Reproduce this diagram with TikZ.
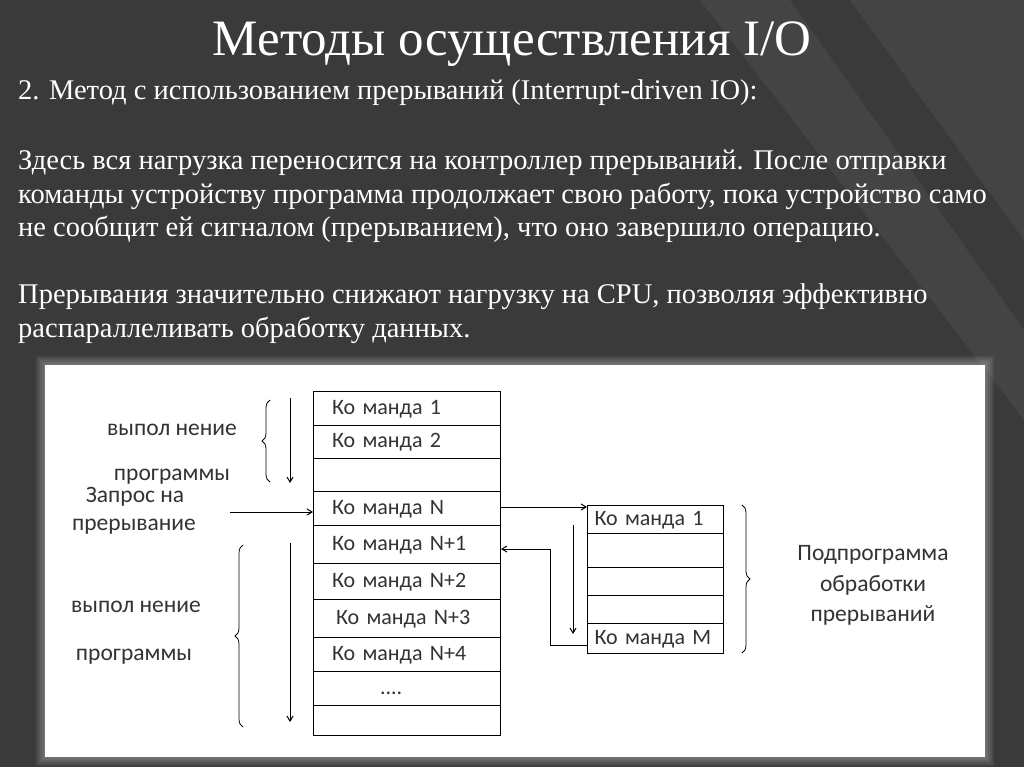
\documentclass[tikz,border=0pt]{standalone}
\usepackage{fontspec}
\setmainfont{Liberation Serif}
\newfontfamily\dfont{Carlito}
\usetikzlibrary{decorations.pathreplacing,arrows.meta}
\definecolor{bg}{HTML}{3A3A3A}
\definecolor{stripe}{HTML}{444444}
\definecolor{dtext}{HTML}{333333}
\begin{document}
\begin{tikzpicture}[x=1pt,y=-1pt,
  cell/.style={draw,line width=1pt,text width=150pt,inner xsep=18.5pt,align=left,inner ysep=0pt,anchor=north west,font=\dfont\fontsize{22}{22}\selectfont,text=dtext,text height=14pt,text depth=3pt},
  scell/.style={draw,line width=1pt,text width=122pt,inner xsep=7pt,align=left,inner ysep=0pt,anchor=north west,font=\dfont\fontsize{22}{22}\selectfont,text=dtext,text height=14pt,text depth=3pt},
  lbl/.style={font=\dfont\fontsize{23.5}{23.5}\selectfont,text=dtext,inner sep=0pt},
  arr/.style={-{Straight Barb[length=5pt,width=6pt]},line width=1pt},
  br/.style={decorate,decoration={brace,amplitude=8pt},line width=0.8pt},
  txt/.style={anchor=west,text=white,font=\fontsize{28.5}{28.5}\selectfont,inner sep=0pt}]
\fill[bg] (0,0) rectangle (1024,767);
\useasboundingbox (0,0) rectangle (1024,767);
\fill[stripe] (850,0) -- (1024,0) -- (1024,240) -- cycle;
\fill[stripe] (700,0) -- (790,0) -- (1024,330) -- (1024,420) -- cycle;
\node[text=white,font=\fontsize{51}{51}\selectfont] (title) at (512,44) {Методы осуществления I/O};
\node[txt] (l1) at (18,93) {2. Метод с использованием прерываний (Interrupt-driven IO):};
\node[txt] (l2) at (18,163) {Здесь вся нагрузка переносится на контроллер прерываний. После отправки};
\node[txt] (l3) at (18,196) {команды устройству программа продолжает свою работу, пока устройство само};
\node[txt] (l4) at (18,229) {не сообщит ей сигналом (прерыванием), что оно завершило операцию.};
\node[txt] (l5) at (18,297) {Прерывания значительно снижают нагрузку на CPU, позволяя эффективно};
\node[txt] (l6) at (18,330) {распараллеливать обработку данных.};
% panel
\foreach \i in {9,7,5,3,1} {\fill[white,opacity=0.07] (45-\i,365-\i) rectangle (985+\i,757+\i);}
\fill[white] (45,365) rectangle (985,757);
% main column
\node[cell,minimum height=34pt] (c1) at (313,391) {Ко манда 1};
\node[cell,minimum height=33pt] (c2) at (313,425) {Ко манда 2};
\node[cell,minimum height=33pt] (c3) at (313,458) {};
\node[cell,minimum height=34pt] (c4) at (313,491) {Ко манда N};
\node[cell,minimum height=38pt] (c5) at (313,525) {Ко манда N+1};
\node[cell,minimum height=36pt] (c6) at (313,563) {Ко манда N+2};
\node[cell,minimum height=38pt] (c7) at (313,599) {\hspace*{4pt}Ко манда N+3};
\node[cell,minimum height=34pt] (c8) at (313,637) {Ко манда N+4};
\node[cell,minimum height=34pt] (c9) at (313,671) {\hspace*{48pt}....};
\node[cell,minimum height=30pt] (c10) at (313,705) {};
% sub column
\node[scell,minimum height=28pt] (s1) at (587,505) {Ко манда 1};
\node[scell,minimum height=34pt] (s2) at (587,533) {};
\node[scell,minimum height=28pt] (s3) at (587,567) {};
\node[scell,minimum height=28pt] (s4) at (587,595) {};
\node[scell,minimum height=30pt] (s5) at (587,623) {Ко манда M};
% labels
\node[lbl] (t1) at (172,430) {выпол нение};
\node[lbl] (t2) at (172,477) {программы};
\node[lbl] (t3) at (135,497) {Запрос на};
\node[lbl] (t4) at (134,527) {прерывание};
\node[lbl] (t5) at (136,607) {выпол нение};
\node[lbl] (t6) at (134,657) {программы};
\node[lbl] (p1) at (873,555) {Подпрограмма};
\node[lbl] (p2) at (873,585) {обработки};
\node[lbl] (p3) at (873,615) {прерываний};
% arrows
\coordinate (a1s) at (290,398); \coordinate (a1e) at (290,483);
\draw[arr] (a1s) -- (a1e);
\coordinate (a2s) at (290,543); \coordinate (a2e) at (290,722);
\draw[arr] (a2s) -- (a2e);
\coordinate (hin) at (230,512);
\draw[arr] (hin) -- (c4.west |- hin);
\draw[arr] (c4.east |- 0,507) -- (s1.west |- 0,507);
\coordinate (ret) at (550,645);
\draw[arr] (s5.west |- ret) -- (ret) -- (550,549) -- (c5.east |- 0,549);
\coordinate (d1) at (573,525); \coordinate (d2) at (573,634);
\draw[arr] (d1) -- (d2);
% braces
\draw[br] (270,482) -- (270,400);
\draw[br] (243,727) -- (243,545);
\draw[br] (742,505) -- (742,653);
\end{tikzpicture}
\end{document}
